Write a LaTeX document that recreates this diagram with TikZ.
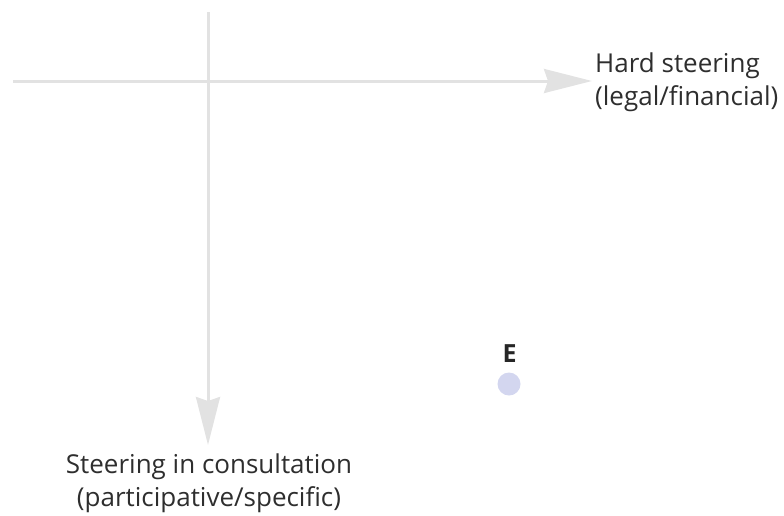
\documentclass[tikz,border=0pt]{standalone}
\usepackage{fontspec}
\setmainfont{Open Sans}
\usetikzlibrary{arrows.meta}
\definecolor{axisgray}{HTML}{E2E2E2}
\definecolor{txtgray}{HTML}{2E2E2E}
\definecolor{dotblue}{HTML}{D3D6EF}
\begin{document}
\begin{tikzpicture}[x=1pt,y=-1pt,
  axis/.style={draw=axisgray,line width=3pt,
    -{Stealth[length=48pt,width=24pt,inset=4pt]}},
  lbl/.style={text=txtgray,font=\fontsize{26}{33}\selectfont,inner sep=0pt,align=left},
  dotlbl/.style={text=black!85,font=\fontsize{25}{27}\selectfont\bfseries,inner sep=0pt}]
\useasboundingbox (0,0) rectangle (784,515);
% axes
\coordinate (hs) at (13,81);
\coordinate (he) at (592,81);
\coordinate (vs) at (208,12);
\coordinate (ve) at (208,445);
\draw[axis] (hs) -- (he);
\draw[axis] (vs) -- (ve);
% axis labels (base anchor sits on the last line)
\node[lbl,anchor=base west] (hard) at (595,105) {Hard steering\\(legal/financial)};
\node[lbl,align=center,anchor=base] (cons) at (209,506) {Steering in consultation\\(participative/specific)};
% point E
\fill[dotblue] (509,384) circle (11.5);
\node[dotlbl,anchor=base] (e) at (509.5,362) {E};
\end{tikzpicture}
\end{document}
